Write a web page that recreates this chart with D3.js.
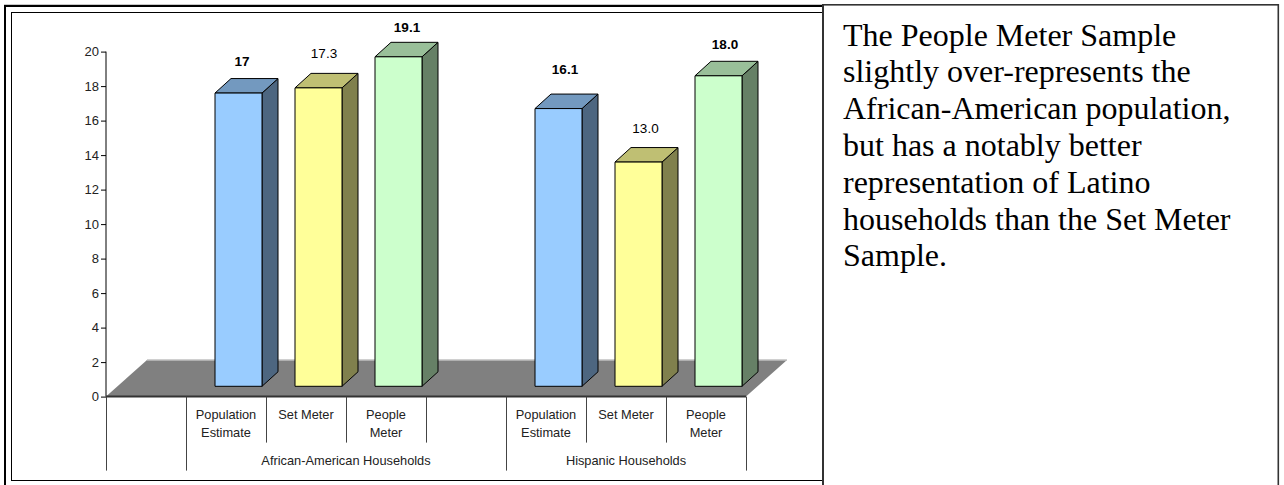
<!DOCTYPE html>
<html><head><meta charset="utf-8">
<script src="https://cdn.jsdelivr.net/npm/d3@7/dist/d3.min.js"></script>
<style>html,body{margin:0;padding:0;background:#fff;overflow:hidden}svg{display:block}</style>
</head><body><svg id="c" width="1284" height="485"></svg>
<script>
const groups = ["African-American Households", "Hispanic Households"];
const categories = [["Population","Estimate"], ["Set Meter"], ["People","Meter"]];
const populationEstimate = [17, 16.1];
const setMeter = [17.3, 13.0];
const peopleMeter = [19.1, 18.0];
const valueLabels = [["17","17.3","19.1"], ["16.1","13.0","18.0"]];
const yTicks = [0,2,4,6,8,10,12,14,16,18,20];
const note = ["The People Meter Sample","slightly over-represents the","African-American population,","but has a notably better","representation of Latino","households than the Set Meter","Sample."];

const series = [populationEstimate, setMeter, peopleMeter];
const FF = "Liberation Sans, Arial, sans-serif";
const svg = d3.select("#c");
const y = d3.scaleLinear().domain([0,20]).range([396.6,51.6]);
const x = d3.scaleBand().domain(d3.range(8)).range([106,746]);
const slots = [[1,2,3],[5,6,7]];
const colors = [
 {front:"#99ccff",top:"#7399bf",side:"#4d6680"},
 {front:"#ffff99",top:"#bfbf73",side:"#80804d"},
 {front:"#ccffcc",top:"#99bf99",side:"#668066"}];
const lift = 10.3, bw = 47, barInset = 29, dx = 16, dy = 14.5, fx = 41, fy = 36.5;
const labelGap = [[27.5,29.5,24.5],[34.5,29.5,26.5]];
const labelX = [[242,324,407],[565,645.5,725]];
const boldLabel = [[true,false,true],[true,false,true]];

// panel frames
svg.append("rect").attr("x",4).attr("y",4).attr("width",1275).attr("height",1).attr("fill","#c8c8c8");
svg.append("rect").attr("x",4).attr("y",5).attr("width",819).attr("height",2).attr("fill","#000");
svg.append("rect").attr("x",4).attr("y",5).attr("width",2).attr("height",480).attr("fill","#000");
svg.append("rect").attr("x",11.5).attr("y",12.5).attr("width",811).attr("height",468).attr("fill","#fff").attr("stroke","#000").attr("stroke-width",1);
svg.append("rect").attr("x",822).attr("y",4).attr("width",2).attr("height",481).attr("fill","#333");
svg.append("rect").attr("x",822).attr("y",4).attr("width",457).attr("height",1.6).attr("fill","#333");
svg.append("rect").attr("x",1277.5).attr("y",4).attr("width",1.6).attr("height",481).attr("fill","#333");

// floor
const x0 = x.range()[0], x1 = x.range()[1], yz = y(0);
svg.append("path").attr("d",`M${x0},${yz}L${x0+fx},${yz-fy}L${x1+fx},${yz-fy}L${x1},${yz}Z`).attr("fill","#808080");
svg.append("line").attr("x1",x0+fx).attr("x2",x1+fx).attr("y1",yz-fy).attr("y2",yz-fy).attr("stroke","#c0c0c0").attr("stroke-width",1.5);

// bars
groups.forEach((g,gi)=>{
  series.forEach((s,si)=>{
    const v = s[gi], c = colors[si];
    const left = x(slots[gi][si]) + barInset, r = left+bw;
    const top = y(v)-lift, bot = y(0)-lift;
    const gb = svg.append("g").attr("stroke","#000").attr("stroke-width",1).attr("stroke-linejoin","round");
    gb.append("path").attr("d",`M${r},${top}L${r+dx},${top-dy}L${r+dx},${bot-dy}L${r},${bot}Z`).attr("fill",c.side);
    gb.append("path").attr("d",`M${left},${top}L${left+dx},${top-dy}L${r+dx},${top-dy}L${r},${top}Z`).attr("fill",c.top);
    gb.append("rect").attr("x",left).attr("y",top).attr("width",bw).attr("height",bot-top).attr("fill",c.front);
    svg.append("text").attr("x",labelX[gi][si]).attr("y",top-labelGap[gi][si]).attr("text-anchor","middle")
      .attr("font-family",FF).attr("font-size",13.5).attr("font-weight",boldLabel[gi][si]?"bold":"normal").attr("fill","#000")
      .text(valueLabels[gi][si]);
  });
});

// y axis
const ax = svg.append("g").attr("transform",`translate(${x0},0)`).call(d3.axisLeft(y).tickValues(yTicks).tickSize(5).tickPadding(2));
ax.selectAll("path,line").attr("stroke","#000").attr("stroke-width",1);
ax.select("path").attr("d",`M0,${y(20)}V${yz}`);
ax.selectAll("text").attr("font-family",FF).attr("font-size",13).attr("fill","#222");
svg.append("line").attr("x1",x0).attr("x2",x1).attr("y1",yz).attr("y2",yz).attr("stroke","#333").attr("stroke-width",2);

// category separators
const sep = (px,h)=>svg.append("line").attr("x1",px+.5).attr("x2",px+.5).attr("y1",yz).attr("y2",yz+h).attr("stroke","#444").attr("stroke-width",1);
[x0,x(1),x(5),x1].forEach(p=>sep(p,74));
[x(2),x(3),x(4),x(6),x(7)].forEach(p=>sep(p,46));
// category labels
const txt = (t,px,py)=>svg.append("text").attr("x",px).attr("y",py).attr("text-anchor","middle").attr("font-family",FF).attr("font-size",12.8).attr("fill","#222").text(t);
slots.flat().forEach((sl,i)=>{
  const cat = categories[i%3], cx = x(sl)+x.bandwidth()/2;
  cat.forEach((t,j)=>txt(t,cx,418.5+j*18));
});
txt(groups[0],x(1)+160,464.5);
txt(groups[1],x(5)+120,464.5);

// note
svg.append("g").selectAll("text").data(note).join("text")
  .attr("x",843).attr("y",(d,i)=>45.5+i*36.8)
  .attr("font-family","Liberation Serif, Times New Roman, serif").attr("font-size",32).attr("fill","#000").text(d=>d);
</script></body></html>
